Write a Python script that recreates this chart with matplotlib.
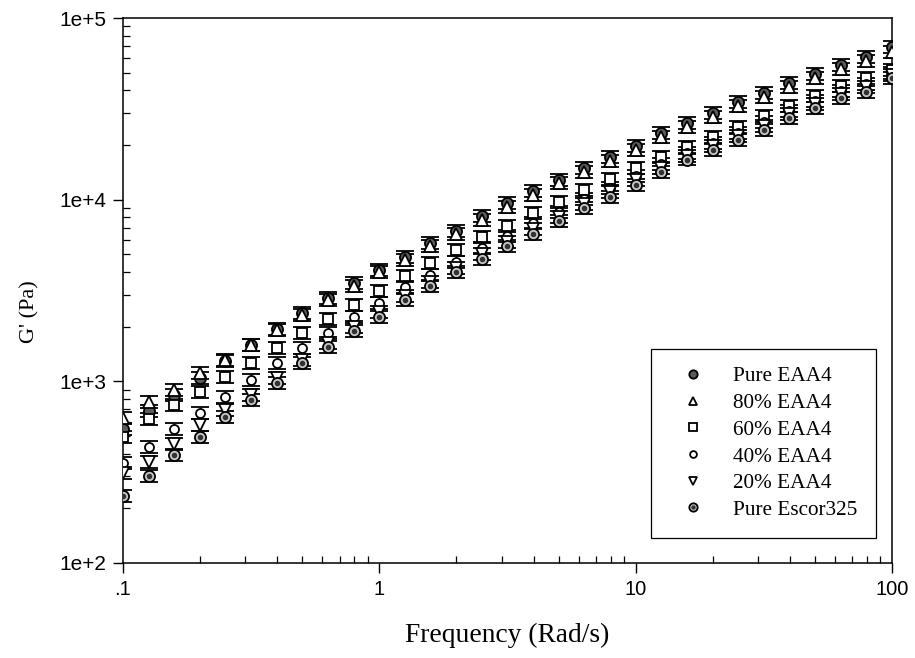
import matplotlib
matplotlib.use("Agg")
import matplotlib.pyplot as plt
from matplotlib.ticker import LogLocator, FixedLocator, NullFormatter
from matplotlib.legend_handler import HandlerTuple
import numpy as np

freq = [0.1, 0.126, 0.158, 0.2, 0.251, 0.316, 0.398, 0.501, 0.631, 0.794,
        1.0, 1.26, 1.58, 2.0, 2.51, 3.16, 3.98, 5.01, 6.31, 7.94,
        10.0, 12.6, 15.8, 20.0, 25.1, 31.6, 39.8, 50.1, 63.1, 79.4, 100.0]

pure_eaa4 = [546, 686, 841, 1043, 1293, 1584, 1940, 2376, 2873, 3475,
             4099, 4833, 5770, 6718, 8124, 9578, 11150, 12820, 14930, 17160,
             19730, 23260, 26400, 29970, 34450, 38610, 43820, 49130, 55060, 60930, 69160]
eaa4_80 = [628, 769, 896, 1111, 1310, 1584, 1916, 2317, 2802, 3346,
           3995, 4651, 5554, 6467, 7722, 9105, 10600, 12340, 14190, 16310,
           18750, 22110, 25100, 28490, 32740, 36700, 41660, 46700, 52330, 57910, 64930]
eaa4_60 = [494, 620, 741, 873, 1056, 1261, 1525, 1845, 2203, 2630,
           3141, 3797, 4478, 5280, 6226, 7157, 8439, 9701, 11290, 12990,
           14930, 17160, 19480, 22110, 25100, 28840, 32740, 37170, 42200, 46700, 51680]
eaa4_40 = [355, 435, 546, 669, 820, 1017, 1261, 1525, 1845, 2259,
           2697, 3304, 3846, 4535, 5415, 6306, 7433, 8548, 10080, 11590,
           13490, 15700, 18050, 20490, 23260, 26740, 30730, 34890, 39610, 43270, 49750]
eaa4_20 = [313, 360, 452, 575, 695, 841, 1043, 1310, 1625, 1990,
           2406, 2948, 3520, 4204, 5018, 5846, 6891, 8022, 9458, 11010,
           12820, 14930, 17380, 19730, 22390, 25420, 29590, 33590, 38130, 41660, 48510]
escor325 = [234, 301, 393, 494, 636, 789, 979, 1261, 1545, 1892,
            2259, 2802, 3346, 3995, 4711, 5554, 6467, 7625, 8990, 10330,
            12030, 14190, 16600, 18750, 21280, 24160, 28120, 31920, 36240, 39110, 46700]

labels = ["Pure EAA4", "80% EAA4", "60% EAA4", "40% EAA4", "20% EAA4", "Pure Escor325"]
x_ticks = [0.1, 1, 10, 100]
x_ticklabels = [".1", "1", "10", "100"]
y_ticks = [1e2, 1e3, 1e4, 1e5]
y_ticklabels = ["1e+2", "1e+3", "1e+4", "1e+5"]

fig = plt.figure(figsize=(9.15, 6.58), dpi=100)
ax = fig.add_axes([0.1344, 0.1444, 0.8405, 0.8282])

serif = ["Liberation Serif", "DejaVu Serif"]
sans = ["Liberation Sans", "DejaVu Sans"]

styles = [
    dict(marker="o", mfc="#5a5a5a", ms=8),
    dict(marker="^", mfc="white", ms=8),
    dict(marker="s", mfc="white", ms=7.5),
    dict(marker="o", mfc="white", ms=6.5),
    dict(marker="v", mfc="white", ms=8),
    dict(marker="o", mfc="#c8c8c8", ms=8),
]
series = [pure_eaa4, eaa4_80, eaa4_60, eaa4_40, eaa4_20, escor325]

handles = []
for vals, st, lab in zip(series, styles, labels):
    v = np.array(vals, dtype=float)
    err = [v * 0.07, v * 0.075]
    ax.errorbar(freq, v, yerr=err, fmt=st["marker"], ms=st["ms"], mfc=st["mfc"],
                mec="black", mew=1.3, ecolor="black", elinewidth=0.9,
                capsize=6.5, capthick=1.2, ls="none", zorder=3)
    h = plt.Line2D([], [], marker=st["marker"], ls="none", ms=st["ms"] * 0.75,
                   mfc=st["mfc"], mec="black", mew=1.3)
    handles.append(h)

# center dot for Escor325
ax.plot(freq, escor325, ls="none", marker="o", ms=3, mfc="#333333", mec="#333333", zorder=4)
dot = plt.Line2D([], [], marker="o", ls="none", ms=2.2, mfc="#333333", mec="#333333")
handles[-1] = (handles[-1], dot)

ax.set_xscale("log")
ax.set_yscale("log")
ax.set_xlim(0.1, 100)
ax.set_ylim(100, 1e5)

ax.xaxis.set_major_locator(FixedLocator(x_ticks))
ax.set_xticklabels(x_ticklabels, fontfamily=sans, fontsize=14.5)
ax.yaxis.set_major_locator(FixedLocator(y_ticks))
ax.set_yticklabels(y_ticklabels, fontfamily=sans, fontsize=15)
ax.xaxis.set_minor_locator(LogLocator(base=10, subs=np.arange(2, 10)))
ax.yaxis.set_minor_locator(LogLocator(base=10, subs=np.arange(2, 10)))
ax.xaxis.set_minor_formatter(NullFormatter())
ax.yaxis.set_minor_formatter(NullFormatter())

ax.tick_params(which="major", direction="out", length=7, width=1.0, pad=5,
               top=False, right=False)
ax.tick_params(which="minor", direction="in", length=5, width=0.9,
               top=False, right=False)
for sp in ax.spines.values():
    sp.set_linewidth(1.1)

ax.set_xlabel("Frequency (Rad/s)", fontfamily=serif, fontsize=19.8)
ax.xaxis.set_label_coords(0.5, -0.11)
ax.set_ylabel("G' (Pa)", fontfamily=serif, fontsize=16)
ax.yaxis.set_label_coords(-0.108, 0.462)

leg = ax.legend(handles, labels, loc="lower right", bbox_to_anchor=(0.979, 0.046),
                prop={"family": serif, "size": 15.3}, frameon=True, fancybox=False,
                edgecolor="black", framealpha=1, labelspacing=0.32,
                handletextpad=0.82, borderpad=0.85, borderaxespad=0,
                handlelength=2.2,
                handler_map={tuple: HandlerTuple(ndivide=1, pad=0)})
leg.get_frame().set_linewidth(0.9)

fig.savefig("out.png", dpi=100)
